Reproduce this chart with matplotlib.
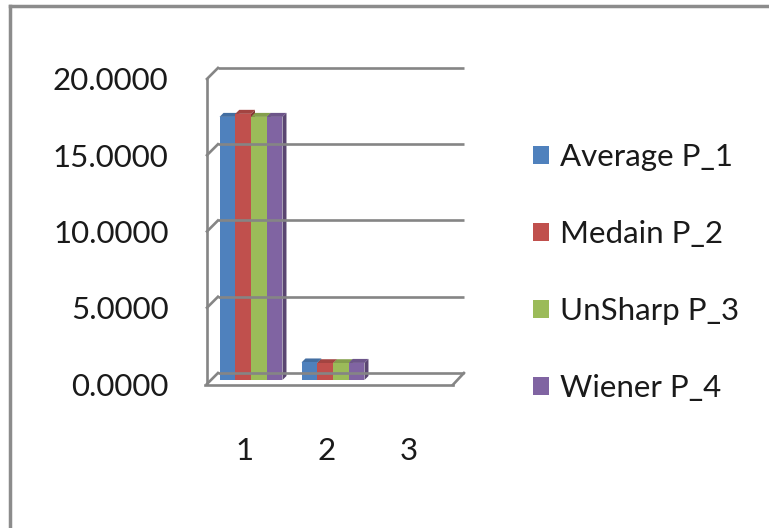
import numpy as np
import matplotlib.pyplot as plt
from matplotlib.patches import Polygon
from matplotlib.lines import Line2D
from matplotlib.transforms import offset_copy
import matplotlib.colors as mcolors

plt.rcParams['font.family'] = ['Lato', 'DejaVu Sans']

categories = ['1', '2', '3']
series_names = ['Average P_1', 'Medain P_2', 'UnSharp P_3', 'Wiener P_4']
average = [17.25, 1.15, 0.0]
medain = [17.45, 1.10, 0.0]
unsharp = [17.25, 1.10, 0.0]
wiener = [17.25, 1.12, 0.0]
yticks = [0, 5, 10, 15, 20]
colors = ['#4F81BD', '#C0504D', '#9BBB59', '#8064A2']

series = [average, medain, unsharp, wiener]

# px geometry: front plane x_px = 251 + 82*(x-1), y_px = 384 - 15.25*v
fig = plt.figure(figsize=(7.69, 5.28), dpi=100)
ax = fig.add_axes([195/769, (528-395)/528, 280/769, 340/528])
ax.set_xlim(0.317, 3.732)
ax.set_ylim(-0.721, 21.57)

# wall depth in data units
dx, dy = 11/82, 11/15.25
x_fl, x_fr = 0.463, 3.463
grid_c = '#858585'
lw = 1.9
for v in yticks:
    ax.plot([x_fl + dx, x_fr + dx], [v + dy, v + dy], color=grid_c, lw=lw, solid_capstyle='butt')
    ax.plot([x_fl, x_fl + dx], [v, v + dy], color=grid_c, lw=lw)
ax.plot([x_fl, x_fl], [0, 20], color=grid_c, lw=lw)
ax.plot([x_fl - 0.03, x_fr], [-0.05, -0.05], color=grid_c, lw=lw)
ax.plot([x_fr, x_fr + dx], [-0.05, dy], color=grid_c, lw=lw)

# bars (front faces + small depth)
n = len(series)
w = 0.192
bdx, bdy = 4/82, 4/15.25
btrans = offset_copy(ax.transData, fig=fig, x=0, y=4, units='dots')
x = np.arange(1, len(categories) + 1)
handles = []
for i, (vals, c) in enumerate(zip(series, colors)):
    xs = x - w*n/2 + w*i + w/2
    dark = np.array(mcolors.to_rgb(c)) * 0.7
    light = np.array(mcolors.to_rgb(c)) * 0.85
    for xc, h in zip(xs, vals):
        if h <= 0:
            continue
        x0, x1 = xc - w/2, xc + w/2
        ax.add_patch(Polygon([(x1, 0), (x1 + bdx, bdy), (x1 + bdx, h + bdy), (x1, h)],
                             closed=True, color=dark, transform=btrans, lw=0))
        ax.add_patch(Polygon([(x0, h), (x1, h), (x1 + bdx, h + bdy), (x0 + bdx, h + bdy)],
                             closed=True, color=light, transform=btrans, lw=0))
    b = ax.bar(xs, vals, width=w, color=c, transform=btrans, lw=0, label=series_names[i])
    handles.append(b)

ax.set_yticks(yticks)
ax.set_yticklabels([f'{v:.4f}' for v in yticks])
ax.set_xticks(x - 0.075)
ax.set_xticklabels(categories)
ax.tick_params(length=0, labelsize=22.5, colors='#1a1a1a')
ax.tick_params(axis='y', pad=19)
ax.tick_params(axis='x', pad=30)
for s in ax.spines.values():
    s.set_visible(False)

leg = fig.legend(handles=handles, loc='upper left', bbox_to_anchor=(533/769, 1 - 143/528),
                 frameon=False, fontsize=22.5, handlelength=0.52, handleheight=0.52,
                 handletextpad=0.35, labelspacing=1.57, labelcolor='#1a1a1a',
                 borderpad=0, borderaxespad=0)

# chart border (top and left edges only visible)
fig.add_artist(Line2D([10/769, 1], [1 - 6/528, 1 - 6/528], color='#8c8c8c', lw=2.5))
fig.add_artist(Line2D([10/769, 10/769], [0, 1 - 6/528], color='#8c8c8c', lw=2.5))

fig.savefig('out.png', dpi=100)
